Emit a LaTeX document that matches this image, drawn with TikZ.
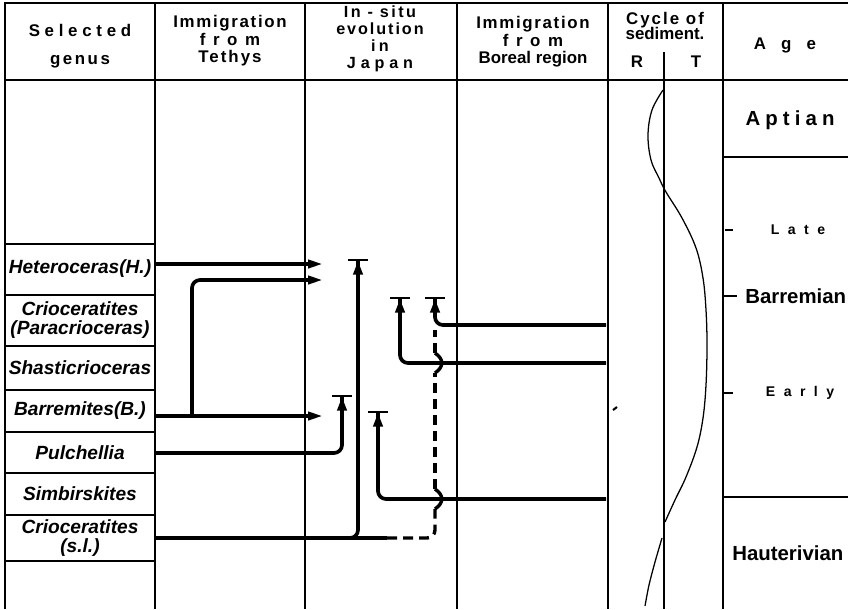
\documentclass[tikz,border=0pt]{standalone}
\usepackage{fontspec}
\setmainfont{Liberation Sans}
\usetikzlibrary{arrows.meta,calc}
\newcommand{\spaced}[2]{{\addfontfeature{LetterSpace=#1}#2}}
\tikzset{
  grid/.style={line width=1.1pt},
  genus/.style={font=\fontsize{13.6}{13.6}\selectfont\bfseries\itshape, align=center, minimum width=37.5mm, inner sep=0pt},
  head/.style={font=\fontsize{12}{12.5}\selectfont\bfseries, align=center, inner sep=0pt},
  agetext/.style={font=\fontsize{14.5}{14.5}\selectfont\bfseries, inner sep=0pt},
  subage/.style={font=\fontsize{10}{10}\selectfont\bfseries, inner sep=0pt},
  migr/.style={line width=2.6pt, -{Triangle[length=3.75mm,width=2mm]}},
  evol/.style={line width=2.6pt, rounded corners=2mm, -{Triangle[length=3.5mm,width=2.3mm] Bar[width=5mm,line width=1.2pt]}},
  route/.style={line width=2.6pt, rounded corners=2mm},
  dashln/.style={line width=2.4pt, dash pattern=on 2.5mm off 1.5mm, rounded corners=2mm},
  hop/.style={line width=2.4pt},
  sedcurve/.style={line width=0.9pt},
}
\begin{document}
\begin{tikzpicture}[x=0.25mm, y=-0.25mm]
\useasboundingbox[fill=white] (0,0) rectangle (848,609);
% table frame
\draw[grid] (5,609) -- (5,3) -- (848,3);
\draw[grid] (5,80) -- (848,80);
\foreach \x in {155,305,457,608,723} \draw[grid] (\x,3) -- (\x,609);
\draw[grid] (664,52) -- (664,609);
\draw[line width=1.7pt] (457,80) -- (457,158);
\foreach \y in {244,295,346,390,432,473,515,561} \draw[grid] (5,\y) -- (155,\y);
\draw[grid] (723,157) -- (848,157);
\draw[grid] (723,497) -- (848,497);
% headings
\node[head] (hGenus) at (80,46) {\spaced{28}{Selected}\\[7.3pt]\spaced{15}{genus}};
\node[head] (hTethys) at (230,41) {\spaced{10}{Immigration}\\\spaced{45}{from}\\\spaced{12}{Tethys}};
\node[head, font=\fontsize{11.5}{12}\selectfont\bfseries] (hJapan) at (380,39) {\spaced{15}{In - situ}\\\spaced{12}{evolution}\\\spaced{20}{in}\\\spaced{30}{Japan}};
\node[head] (hBoreal) at (533,42) {\spaced{10}{Immigration}\\\spaced{45}{from}\\Boreal region};
\node[head] (hCycle) at (665,26) {\spaced{12}{Cycle of}\\[-1.2pt]sediment.};
\node[head] (hR) at (637,62) {R};
\node[head] (hT) at (696,62) {T};
\node[head] (hAge) at (785,45) {\spaced{90}{Age}};
% genera
\node[genus] (het) at (80,269) {Heteroceras(H.)};
\node[genus] (para) at (80,320) {Crioceratites\\(Paracrioceras)};
\node[genus] (shas) at (80,368) {Shasticrioceras};
\node[genus] (barr) at (80,411) {Barremites(B.)};
\node[genus] (pulc) at (80,453) {Pulchellia};
\node[genus] (simb) at (80,494) {Simbirskites};
\node[genus] (crio) at (80,538) {Crioceratites\\(s.l.)};
% ages
\node[agetext] (aptian) at (790,120) {\spaced{25}{Aptian}};
\node[subage] (late) at (798,230) {\spaced{60}{Late}};
\node[agetext, anchor=west] (barrem) at (745,296) {Barremian};
\node[subage] (early) at (800,393) {\spaced{60}{Early}};
\node[agetext, anchor=west] (hauter) at (732,553) {Hauterivian};
\draw[grid] (725,230) -- (733,230);
\draw[grid] (723,296) -- (737,296);
\draw[grid] (723,393) -- (733,393);
% targets
\coordinate (tHet) at (323,264);
\coordinate (tHet2) at (323,280);
\coordinate (tBar) at (323,416);
\coordinate (fork) at (192,416);
\coordinate (jHet) at (358,259);
\coordinate (jBar) at (342,395);
\coordinate (jSim) at (378,411);
\coordinate (jShas) at (400,297);
\coordinate (jPara) at (435,297);
\coordinate (bPara) at (606,325);
\coordinate (bShas) at (606,363);
\coordinate (bSimb) at (606,499);
\coordinate (rise) at (348,538);
\coordinate (dEnd) at (387,538);
\coordinate (hopA1) at (435,509);
\coordinate (hopA2) at (435,489);
\coordinate (hopB1) at (435,373);
\coordinate (hopB2) at (435,353);
\coordinate (dTop) at (435,330);
% from Tethys
\draw[migr] (het.east |- tHet) -- (tHet);
\draw[migr] (barr.east |- tBar) -- (tBar);
\draw[migr, rounded corners=2mm] (fork) |- (tHet2);
\draw[evol] (pulc.east) -| (jBar);
\draw[route] (crio.east) -- (dEnd);
\draw[evol] (rise) -| (jHet);
% in Japan
\draw[dashln] (dEnd) -| (hopA1);
\draw[hop] (hopA1) .. controls +(9,-6) and +(9,6) .. (hopA2);
\draw[dashln] (hopA2) -- (hopB1);
\draw[hop] (hopB1) .. controls +(9,-6) and +(9,6) .. (hopB2);
\draw[dashln] (hopB2) -- (dTop);
% from Boreal region
\draw[evol] (bPara) -| (jPara);
\draw[evol] (bShas) -| (jShas);
\draw[evol] (bSimb) -| (jSim);
% cycle of sediment
\draw[sedcurve] plot[smooth, tension=0.6] coordinates {(663,90) (652,110) (648,135) (651,160) (659,178) (666,192) (682,218) (696,248) (703,278) (706,310) (707,345) (706,385) (703,418) (697,447) (686,477) (675,500) (665,522)};
\draw[sedcurve] plot[smooth] coordinates {(662,538) (655,562) (649,585) (645,606)};
\draw[line width=1.5pt] (613,410) -- (617,407);
\end{tikzpicture}
\end{document}
